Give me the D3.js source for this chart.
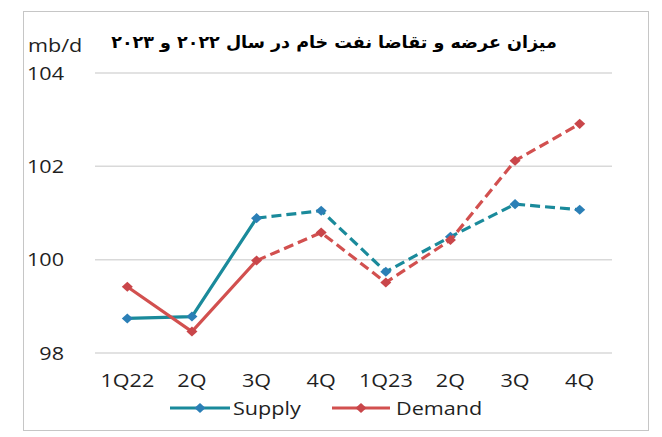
<!DOCTYPE html>
<html>
<head>
<meta charset="utf-8">
<script src="https://cdn.jsdelivr.net/npm/d3@7"></script>
<style>
  body { margin: 0; background: #fff; }
  text { font-family: "Open Sans", "Noto Sans", sans-serif; fill: #1f1f1f; }
</style>
</head>
<body>
<div id="chart"></div>
<script>
const quarters = ["1Q22", "2Q", "3Q", "4Q", "1Q23", "2Q ", "3Q ", "4Q "];
const supply = [98.74, 98.78, 100.89, 101.05, 99.74, 100.49, 101.19, 101.07];
const demand = [99.42, 98.46, 99.98, 100.58, 99.51, 100.42, 102.12, 102.91];
const yTicks = [98, 100, 102, 104];
const solidUntil = 2; // index where the forecast (dashed) part starts
const title = "میزان عرضه و تقاضا نفت خام در سال ۲۰۲۲ و ۲۰۲۳";

const width = 662, height = 437;
const sx = 1.2; // the source picture is stretched sideways

const svg = d3.select("#chart").append("svg")
  .attr("width", width)
  .attr("height", height);

// frame
svg.append("rect")
  .attr("x", 23.5).attr("y", 11.5)
  .attr("width", 625).attr("height", 419)
  .attr("fill", "none")
  .attr("stroke", "#c6c6c6");

const x = d3.scalePoint()
  .domain(quarters)
  .range([95, 612])
  .padding(0.5);

const y = d3.scaleLinear()
  .domain([98, 104])
  .range([353, 73]);

// stretched text helper
function label(px, py, str, anchor, size) {
  return svg.append("text")
    .attr("transform", `translate(${px},${py}) scale(${sx},1)`)
    .attr("text-anchor", anchor)
    .style("font-size", size + "px")
    .text(str);
}

// gridlines
svg.append("g").selectAll("line")
  .data(yTicks)
  .join("line")
  .attr("x1", 95).attr("x2", 612)
  .attr("y1", d => y(d)).attr("y2", d => y(d))
  .attr("stroke", "#d9d9d9")
  .attr("stroke-width", 1.5);

yTicks.forEach(t => label(64, y(t) + 6.5, t, "end", 18));
label(28, 52, "mb/d", "start", 18);

quarters.forEach(q => label(x(q), 387, q.trim(), "middle", 18));

// title
const t = svg.append("text")
  .attr("text-anchor", "middle")
  .attr("direction", "rtl")
  .style("font-family", "'DejaVu Sans', sans-serif")
  .style("font-weight", "bold")
  .style("font-size", "17px")
  .style("fill", "#000")
  .text(title);
const tw = t.node().getComputedTextLength();
t.attr("transform", `translate(334,48) scale(${446 / tw},1)`);

const series = [
  { name: "Supply", values: supply, line: "#1a8a9b", mark: "#2b7fb6" },
  { name: "Demand", values: demand, line: "#d2504f", mark: "#c9464a" }
];

const line = d3.line()
  .x(d => x(d.q))
  .y(d => y(d.v));

function diamond(g, cx, cy, color) {
  g.append("path")
    .attr("d", d3.symbol(d3.symbolDiamond2, 64)())
    .attr("transform", `translate(${cx},${cy}) scale(1.1,1)`)
    .attr("fill", color);
}

series.forEach(s => {
  const pts = s.values.map((v, i) => ({ q: quarters[i], v }));
  const g = svg.append("g");
  g.append("path")
    .datum(pts.slice(0, solidUntil + 1))
    .attr("d", line)
    .attr("fill", "none")
    .attr("stroke", s.line)
    .attr("stroke-width", 3.2);
  g.append("path")
    .datum(pts.slice(solidUntil))
    .attr("d", line)
    .attr("fill", "none")
    .attr("stroke", s.line)
    .attr("stroke-width", 3.2)
    .attr("stroke-dasharray", "10,5");
  pts.forEach(p => diamond(g, x(p.q), y(p.v), s.mark));
});

// legend
const legendItems = [
  { s: series[0], x0: 170, x1: 230, tx: 233 },
  { s: series[1], x0: 332, x1: 390, tx: 396 }
];
legendItems.forEach(d => {
  svg.append("line")
    .attr("x1", d.x0).attr("x2", d.x1)
    .attr("y1", 408).attr("y2", 408)
    .attr("stroke", d.s.line)
    .attr("stroke-width", 3.2);
  diamond(svg, (d.x0 + d.x1) / 2, 408, d.s.mark);
  label(d.tx, 414.5, d.s.name, "start", 18);
});
</script>
</body>
</html>
